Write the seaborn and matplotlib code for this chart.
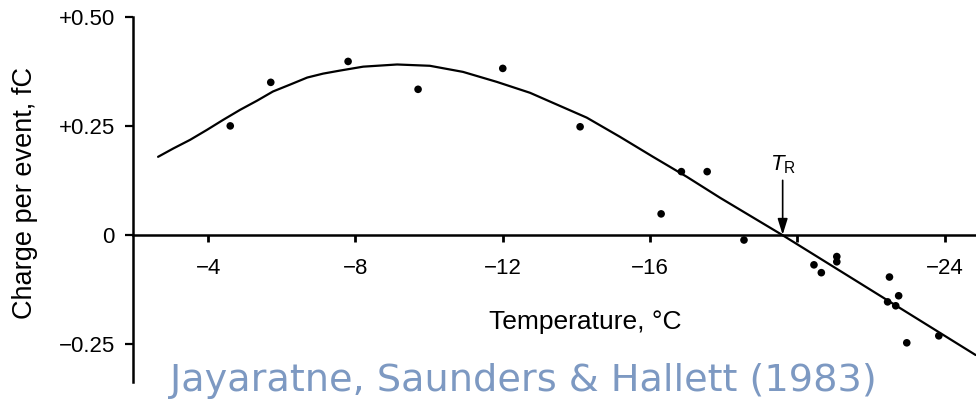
import numpy as np
import pandas as pd
import seaborn as sns
import matplotlib.pyplot as plt

# measured points (temperature in degC, charge per event in fC)
temp_points = [-4.6, -5.7, -7.8, -9.7, -12.0, -14.1, -16.3, -16.85, -17.55,
               -18.55, -20.45, -20.65, -21.07, -21.07, -22.5, -22.45, -22.75,
               -22.67, -22.97, -23.84]
charge_points = [0.250, 0.350, 0.398, 0.334, 0.382, 0.248, 0.048, 0.145, 0.145,
                 -0.012, -0.069, -0.087, -0.050, -0.062, -0.097, -0.154, -0.140,
                 -0.163, -0.248, -0.232]

# fitted curve
curve_temp = [-2.64, -3.05, -3.51, -3.97, -4.41, -4.87, -5.33, -5.76, -6.23,
              -6.69, -7.12, -7.58, -8.21, -9.13, -10.02, -10.92, -11.84,
              -12.74, -13.36, -14.28, -15.18, -16.08, -17.0, -17.9, -19.58,
              -24.84]
curve_charge = [0.179, 0.198, 0.218, 0.241, 0.264, 0.287, 0.308, 0.329, 0.345,
                0.361, 0.370, 0.377, 0.386, 0.391, 0.388, 0.374, 0.351,
                0.326, 0.303, 0.269, 0.225, 0.179, 0.133, 0.085, 0.0,
                -0.276]

x_ticks = [-4, -8, -12, -16, -20, -24]
x_tick_labels = ['\u22124', '\u22128', '\u221212', '\u221216', '', '\u221224']
y_ticks = [0.5, 0.25, 0.0, -0.25]
y_tick_labels = ['+0.50', '+0.25', '0', '\u22120.25']
t_reversal = -19.6

sns.set_theme(style="white")
plt.rcParams['font.family'] = ['Liberation Sans', 'DejaVu Sans']
plt.rcParams['mathtext.fontset'] = 'custom'
plt.rcParams['mathtext.rm'] = 'Liberation Sans'
plt.rcParams['mathtext.it'] = 'Liberation Sans:italic'

fig = plt.figure(figsize=(9.76, 4.03), dpi=100)
ax = fig.add_axes([0.1363, 0.0521, 0.8637, 0.9057])

pts = pd.DataFrame({'temp': temp_points, 'charge': charge_points})
crv = pd.DataFrame({'temp': curve_temp, 'charge': curve_charge})

sns.lineplot(data=crv, x='temp', y='charge', sort=False, estimator=None,
             color='black', linewidth=1.6, ax=ax, clip_on=False)
sns.scatterplot(data=pts, x='temp', y='charge', color='black', s=30,
                edgecolor='none', ax=ax, zorder=3)

ax.set_xlim(-1.96, -24.85)
ax.set_ylim(-0.338, 0.5)

# spines: left axis plus a zero line acting as the x axis
for side in ['top', 'right']:
    ax.spines[side].set_visible(False)
ax.spines['bottom'].set_position(('data', 0))
for side in ['left', 'bottom']:
    ax.spines[side].set_color('black')
    ax.spines[side].set_linewidth(1.8)

ax.set_xticks(x_ticks)
ax.set_xticklabels(x_tick_labels)
ax.set_yticks(y_ticks)
ax.set_yticklabels(y_tick_labels)
ax.tick_params(axis='x', direction='out', length=5, width=2, pad=12,
               labelsize=16, colors='black', bottom=True)
ax.tick_params(axis='y', direction='out', length=6, width=1.6, pad=7,
               labelsize=16, colors='black', left=True)

ax.set_xlabel('Temperature, \u00b0C', fontsize=19, color='black')
ax.xaxis.set_label_coords(0.536, 0.197)
ax.set_ylabel('Charge per event, fC', fontsize=19.5, color='black')
ax.yaxis.set_label_coords(-0.128, 0.518)
ax.yaxis.label.set_va('center')

# reversal temperature marker
ax.text(t_reversal, 0.16, r'$T_\mathrm{R}$', fontsize=16, ha='center',
        va='center', color='black')
ax.annotate('', xy=(t_reversal, 0.0), xytext=(t_reversal, 0.125),
            arrowprops=dict(arrowstyle='-|>,head_length=0.8,head_width=0.25',
                            color='black', lw=1.2, shrinkA=0, shrinkB=0))

fig.text(0.536, 0.055, 'Jayaratne, Saunders & Hallett (1983)', ha='center',
         va='center', fontsize=27.5, color='#7d99c2', family='DejaVu Sans')

fig.savefig('out.png', dpi=100)
